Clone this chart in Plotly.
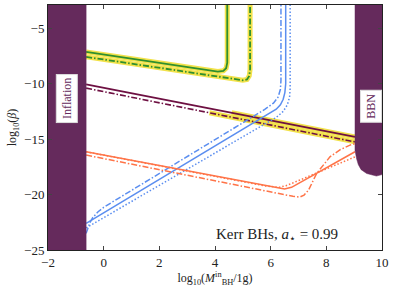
import plotly.graph_objects as go

# ---- data (log10 M_BH [g], log10 beta) ----
green_solid_x = [-0.63, 1.0, 2.5, 4.1, 4.3, 4.4, 4.44, 4.44]
green_solid_y = [-7.13, -7.74, -8.30, -8.90, -8.84, -8.6, -8.1, -2.9]
green_dash_x = [-0.63, 1.0, 3.0, 5.0, 5.15, 5.23, 5.26, 5.26]
green_dash_y = [-7.58, -8.19, -8.94, -9.69, -9.62, -9.3, -8.7, -2.9]

maroon_solid_x = [-0.63, 9.03]
maroon_solid_y = [-10.05, -14.8]
maroon_dash_x = [-0.63, 9.03]
maroon_dash_y = [-10.4, -15.25]
maroon_solid_halo_x = [4.6, 9.03]
maroon_solid_halo_y = [-12.62, -14.8]
maroon_dash_halo_x = [3.8, 9.03]
maroon_dash_halo_y = [-12.62, -15.25]

blue_solid_x = [-0.63, 2.0, 4.0, 6.0, 6.2, 6.35, 6.45, 6.51, 6.54, 6.54]
blue_solid_y = [-22.6, -18.65, -15.65, -12.65, -12.3, -11.9, -11.4, -10.8, -10.0, -2.9]
blue_dash_x = [-0.63, -0.5, -0.4, -0.2, 0.0, 2.0, 4.0, 5.8, 6.1, 6.27, 6.35, 6.37, 6.37]
blue_dash_y = [-23.5, -22.55, -22.1, -21.55, -21.15, -18.1, -15.05, -12.3, -11.75, -11.2, -10.5, -9.7, -2.9]
blue_dot_x = [-0.63, -0.35, 2.0, 4.0, 6.2, 6.45, 6.6, 6.68, 6.7, 6.7]
blue_dot_y = [-23.0, -22.6, -19.17, -16.25, -13.04, -12.5, -11.9, -11.2, -10.4, -2.9]

orange_solid_x = [-0.63, 2.0, 4.0, 6.2, 6.5, 6.75, 7.0, 9.03]
orange_solid_y = [-16.14, -17.40, -18.36, -19.42, -19.5, -19.35, -19.0, -16.14]
orange_dash_x = [-0.63, 2.0, 4.0, 6.8, 7.05, 7.2, 7.36, 7.65, 8.13, 8.5, 8.85, 9.03]
orange_dash_y = [-16.44, -17.76, -18.76, -20.16, -20.22, -20.05, -19.6, -18.1, -16.6, -15.95, -15.54, -15.4]
orange_dot_x = [-0.63, 2.0, 4.0, 5.8, 6.3, 6.55, 6.8, 7.6, 9.03]
orange_dot_y = [-16.14, -17.40, -18.36, -19.22, -19.35, -19.2, -18.95, -18.1, -16.6]

inflation_x = [-2.0, -0.63, -0.63, -2.0]
inflation_y = [-25.0, -25.0, -2.9, -2.9]
bbn_x = [9.03, 9.03, 9.09, 9.15, 9.25, 9.45, 9.8, 10.0, 10.0]
bbn_y = [-2.9, -16.0, -16.8, -17.3, -17.75, -18.1, -18.33, -18.2, -2.9]

x_ticks = [-2, 0, 2, 4, 6, 8, 10]
y_ticks = [-25, -20, -15, -10, -5]

# ---- styles ----
PURPLE = "#652a5c"
MAROON = "#6e1042"
GREEN = "#2f8f2f"
YELLOW = "#f2e24a"
BLUE = "#5b8ef0"
ORANGE = "#ff7448"
DASHDOT = "6px,2px,1.5px,2px"
DOT = "1.5px,2px"
FONT = "Liberation Serif"

fig = go.Figure()

def line(x, y, color, width, dash="solid"):
    fig.add_trace(go.Scatter(x=x, y=y, mode="lines", hoverinfo="skip",
                             line=dict(color=color, width=width, dash=dash)))

# halos
line(green_solid_x, green_solid_y, YELLOW, 5)
line(green_dash_x, green_dash_y, YELLOW, 5)
line(maroon_dash_halo_x, maroon_dash_halo_y, YELLOW, 5)
line(maroon_solid_halo_x, maroon_solid_halo_y, YELLOW, 5)

# curves
line(green_solid_x, green_solid_y, GREEN, 1.8)
line(green_dash_x, green_dash_y, GREEN, 1.8, DASHDOT)
line(maroon_solid_x, maroon_solid_y, MAROON, 1.8)
line(maroon_dash_x, maroon_dash_y, MAROON, 1.6, DASHDOT)
line(blue_dot_x, blue_dot_y, BLUE, 1.5, DOT)
line(blue_dash_x, blue_dash_y, BLUE, 1.5, DASHDOT)
line(blue_solid_x, blue_solid_y, BLUE, 1.5)
line(orange_dot_x, orange_dot_y, ORANGE, 1.5, DOT)
line(orange_dash_x, orange_dash_y, ORANGE, 1.5, DASHDOT)
line(orange_solid_x, orange_solid_y, ORANGE, 1.6)

# excluded regions
for rx, ry in [(inflation_x, inflation_y), (bbn_x, bbn_y)]:
    fig.add_trace(go.Scatter(x=rx, y=ry, mode="lines", fill="toself",
                             fillcolor=PURPLE, line=dict(color=PURPLE, width=0.5),
                             hoverinfo="skip"))

fig.add_annotation(x=-1.32, y=-11.3, text="Inflation", textangle=-90, showarrow=False,
                   font=dict(family=FONT, size=12, color=PURPLE),
                   bgcolor="white", bordercolor="#dddddd", borderwidth=1, borderpad=3)
fig.add_annotation(x=9.6, y=-12.0, text="BBN", textangle=-90, showarrow=False,
                   font=dict(family=FONT, size=12, color=PURPLE),
                   bgcolor="white", bordercolor="#dddddd", borderwidth=1, borderpad=3)
fig.add_annotation(x=6.23, y=-23.65, text="Kerr BHs, <i>a</i><sub>⋆</sub> = 0.99",
                   showarrow=False, font=dict(family=FONT, size=15, color="#222222"))

axis_common = dict(showgrid=False, zeroline=False, showline=True, linecolor="#222222",
                   linewidth=1, mirror="ticks", ticks="inside", ticklen=4,
                   tickcolor="#444444", tickfont=dict(family=FONT, size=13, color="#222222"))

fig.update_layout(
    width=395, height=291,
    margin=dict(l=48, r=13, t=5, b=41),
    paper_bgcolor="white", plot_bgcolor="white",
    showlegend=False,
    xaxis=dict(range=[-2, 10], tickvals=x_ticks,
               title=dict(text="log<sub>10</sub>(<i>M</i><sup>in</sup><sub>BH</sub>/1g)",
                          font=dict(family=FONT, size=12, color="#222222"), standoff=5),
               **axis_common),
    yaxis=dict(range=[-25, -2.9], tickvals=y_ticks,
               title=dict(text="log<sub>10</sub>(<i>β</i>)",
                          font=dict(family=FONT, size=12, color="#222222"), standoff=4),
               **axis_common),
)

fig.write_html("out.html", config={"displayModeBar": False},
               post_script="document.body.style.margin='0';document.body.style.overflow='hidden';")
